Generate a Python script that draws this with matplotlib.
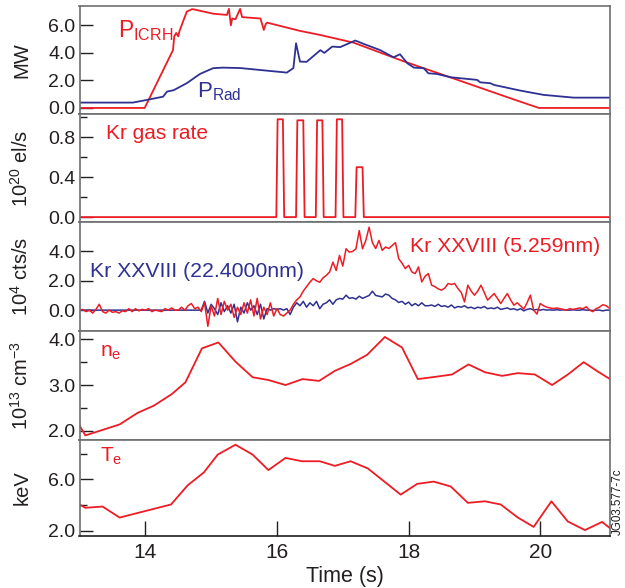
import numpy as np
import matplotlib
matplotlib.use("Agg")
import matplotlib.pyplot as plt

plt.rcParams['font.family'] = ['Liberation Sans', 'DejaVu Sans']
plt.rcParams['mathtext.default'] = 'regular'

RED = '#ed1c24'
BLUE = '#2e3192'
INK = '#231f20'
FRAME = '#6d6e71'

# --- power (MW) ---
icrh_t = [13.0, 13.99, 14.42, 14.44, 14.47, 14.50, 14.52, 14.63, 14.71, 14.75, 15.03, 15.24,
          15.27, 15.30, 15.32, 15.37, 15.44, 15.47, 15.75, 15.80, 15.83, 15.85, 16.35, 16.66,
          17.16, 17.92, 18.63, 19.55, 19.98, 21.06]
icrh_v = [0.0, 0.0, 4.2, 5.2, 5.45, 5.2, 5.6, 7.0, 7.18, 7.15, 6.85, 6.76,
          7.2, 6.0, 6.5, 6.45, 7.2, 6.6, 6.5, 5.67, 6.1, 6.2, 5.6, 5.3,
          4.75, 3.4, 2.23, 0.7, 0.0, 0.0]

rad_t = [13.0, 13.81, 14.02, 14.27, 14.33, 14.43, 14.63, 14.83, 15.03, 15.18, 15.44, 16.15,
         16.25, 16.29, 16.35, 16.45, 16.66, 16.72, 16.84, 16.96, 17.19, 17.32, 17.57, 17.77,
         17.87, 17.98, 18.08, 18.23, 18.30, 18.43, 18.64, 19.04, 19.09, 19.24, 19.30, 19.70,
         20.05, 20.51, 21.06]
rad_v = [0.39, 0.39, 0.58, 0.82, 1.19, 1.29, 1.8, 2.47, 2.89, 2.93, 2.9, 2.57,
         2.9, 4.7, 3.37, 3.35, 4.2, 4.0, 4.46, 4.42, 4.9, 4.65, 4.2, 3.68,
         3.9, 3.25, 2.93, 2.89, 2.52, 2.47, 2.23, 2.04, 1.86, 1.8, 1.67, 1.26,
         0.95, 0.75, 0.75]

# --- Kr gas rate (1e20 el/s) ---
gas_t = [13.0, 15.99, 16.01, 16.09, 16.11, 16.29, 16.31, 16.40, 16.42, 16.59, 16.61,
         16.69, 16.71, 16.89, 16.91, 16.99, 17.01, 17.19, 17.21, 17.30, 17.32, 21.06]
gas_v = [0.0, 0.0, 0.98, 0.98, 0.0, 0.0, 0.97, 0.97, 0.0, 0.0, 0.97,
         0.97, 0.0, 0.0, 0.98, 0.98, 0.0, 0.0, 0.5, 0.5, 0.0, 0.0]

# --- Kr XXVIII line intensities (1e4 cts/s), sampled every 50 ms from 13.0 s ---
kr_t = np.round(np.arange(162) * 0.05 + 13.0, 2)
kr_5nm = [
    0.0, 0.05, -0.1, 0.0, -0.2, 0.05, 0.4, -0.1, -0.2, 0.0,          # 13.0
    -0.15, -0.1, -0.2, -0.05, -0.1, 0.1, -0.1, 0.1, -0.05, 0.05,     # 13.5
    0.0, 0.1, -0.1, 0.0, -0.05, -0.1, 0.1, 0.0, 0.15, 0.0,           # 14.0
    0.0, 0.2, 0.0, 0.3, 0.45, 0.1, 0.2, -0.1, 0.5, -1.1,             # 14.5
    0.3, -0.4, 0.8, -0.3, 0.6, 0.0, 0.4, -0.5, 0.2, -0.3,            # 15.0
    0.5, -0.2, 0.7, -0.4, 0.8, -0.6, 0.2, -0.3, 0.5, -0.4,           # 15.5
    0.1, -0.3, -0.4, -0.2, 0.0, 0.4, 0.7, 0.9, 1.3, 1.6,             # 16.0
    1.9, 2.15, 2.0, 1.9, 2.2, 2.37, 2.6, 3.27, 2.7, 3.73,            # 16.5
    3.0, 4.18, 3.95, 4.0, 4.18, 5.42, 4.18, 4.75, 5.65, 4.6,         # 17.0
    4.2, 4.75, 4.07, 4.3, 4.2, 4.4, 4.6, 3.5, 3.2, 2.83,             # 17.5
    3.05, 2.6, 2.49, 2.94, 1.92, 2.3, 2.49, 1.7, 1.6, 1.45,          # 18.0
    1.36, 1.5, 1.81, 1.75, 1.81, 1.47, 1.2, 0.56, 1.7, 1.3,          # 18.5
    1.02, 1.3, 1.7, 1.2, 0.68, 0.9, 1.13, 0.8, 0.45, 0.8,            # 19.0
    1.13, 0.7, 0.34, 0.5, 0.3, 0.07, 0.5, 1.02, 0.0, -0.27,          # 19.5
    0.45, 0.3, 0.2, 0.15, 0.11, 0.15, 0.1, 0.05, 0.0, 0.1,           # 20.0
    0.05, 0.1, 0.15, 0.1, 0.23, 0.0, -0.1, 0.1, 0.2, 0.37,           # 20.5
    0.3, 0.14]
kr_22nm = [
    0.0, 0.0, 0.0, 0.0, 0.0, 0.0, 0.0, 0.0, 0.0, 0.0,                # 13.0
    0.0, 0.0, 0.0, 0.0, 0.0, 0.0, 0.0, 0.0, 0.0, 0.0,                # 13.5
    0.0, 0.0, 0.0, 0.0, 0.0, 0.0, 0.0, 0.0, 0.0, 0.0,                # 14.0
    0.0, 0.0, 0.0, 0.0, 0.0, 0.0, 0.0, 0.0, 0.6, -0.2,               # 14.5
    0.4, 0.1, -0.3, 0.5, -0.1, 0.3, -0.2, 0.4, -0.8, 0.2,            # 15.0
    -0.2, 0.5, 0.0, 0.3, -0.3, 0.4, -0.6, 0.1, 0.0, 0.1,             # 15.5
    0.05, 0.1, 0.0, 0.1, -0.3, 0.2, 0.5, 0.3, 0.6, 0.2,              # 16.0
    0.5, 0.3, 0.6, 0.1, 0.4, 0.5, 0.7, 0.4, 0.7, 0.8,                # 16.5
    0.75, 1.02, 0.8, 0.85, 0.75, 0.95, 0.8, 0.9, 1.0, 1.29,          # 17.0
    1.0, 0.95, 0.9, 1.1, 1.02, 0.8, 0.7, 0.52, 0.6, 0.4,             # 17.5
    0.55, 0.3, 0.45, 0.3, 0.5, 0.3, 0.3, 0.35, 0.25, 0.4,            # 18.0
    0.25, 0.3, 0.2, 0.35, 0.15, 0.25, 0.2, 0.3, 0.15, 0.2,           # 18.5
    0.1, 0.2, 0.15, 0.25, 0.1, 0.15, 0.1, 0.2, 0.05, 0.1,            # 19.0
    0.15, 0.05, 0.1, 0.0, 0.1, -0.05, 0.05, 0.1, 0.0, 0.05,          # 19.5
    0.0, 0.05, 0.0, 0.02, 0.0, 0.03, 0.0, 0.02, 0.0, 0.0,            # 20.0
    0.02, 0.0, 0.0, 0.03, 0.0, 0.0, -0.03, 0.0, 0.0, -0.05,          # 20.5
    0.0, 0.0]

# --- density (1e13 cm-3) ---
ne_t = [13.0, 13.09, 13.61, 13.88, 14.13, 14.40, 14.61, 14.86, 15.11, 15.37, 15.63, 15.87,
        16.13, 16.39, 16.64, 16.88, 17.12, 17.37, 17.64, 17.90, 18.14, 18.41, 18.66, 18.91,
        19.16, 19.42, 19.66, 19.92, 20.18, 20.42, 20.66, 20.88, 21.06]
ne_v = [2.12, 1.90, 2.14, 2.39, 2.55, 2.80, 3.06, 3.80, 3.93, 3.51, 3.17, 3.11,
        3.0, 3.13, 3.09, 3.31, 3.46, 3.66, 4.05, 3.82, 3.13, 3.18, 3.23, 3.45,
        3.28, 3.20, 3.26, 3.23, 3.0, 3.23, 3.50, 3.29, 3.13]

# --- electron temperature (keV) ---
te_t = [13.0, 13.09, 13.35, 13.61, 14.39, 14.64, 14.89, 15.10, 15.37, 15.63, 15.87, 16.13,
        16.38, 16.65, 16.88, 17.12, 17.38, 17.62, 17.88, 18.13, 18.38, 18.64, 18.90, 19.16,
        19.40, 19.66, 19.90, 20.17, 20.42, 20.68, 20.94, 21.06]
te_v = [4.04, 3.78, 3.88, 3.02, 4.04, 5.52, 6.55, 7.94, 8.71, 7.94, 6.73, 7.68,
        7.42, 7.42, 7.06, 7.42, 6.86, 5.88, 4.81, 5.65, 5.83, 5.45, 4.17, 4.29,
        4.04, 3.02, 2.29, 4.29, 2.71, 2.04, 2.68, 2.19]

assert len(kr_t) == len(kr_5nm) == len(kr_22nm)

fig = plt.figure(figsize=(6.25, 5.88), dpi=100)
left, width = 0.1272, 0.8488
boxes = [(0.8061, 0.1842), (0.6216, 0.1845), (0.4371, 0.1845), (0.2517, 0.1854), (0.0889, 0.1628)]
axes = [fig.add_axes([left, b, width, h]) for b, h in boxes]

for ax in axes:
    ax.set_xlim(13.0, 21.06)
    for s in ax.spines.values():
        s.set_color(FRAME)
        s.set_linewidth(1.2)
    ax.tick_params(axis='y', which='major', direction='in', length=9, width=1.0,
                   color=INK, labelsize=14, labelcolor=INK, pad=3)
    ax.tick_params(axis='y', which='minor', direction='in', length=5, width=1.0, color=INK)
    ax.tick_params(axis='x', which='both', bottom=False, top=False, labelbottom=False)

ax1, ax2, ax3, ax4, ax5 = axes

# panel 1
ax1.plot(icrh_t, icrh_v, color=RED, lw=1.3)
ax1.plot(rad_t, rad_v, color=BLUE, lw=1.3)
ax1.set_ylim(-0.44, 7.43)
ax1.set_yticks([0, 2, 4, 6])
ax1.set_yticklabels(['0.0', '2.0', '4.0', '6.0'])
ax1.set_ylabel('MW', fontsize=14.5, color=INK)
ax1.text(0.0726, 0.714, r'P$_{ICRH}$', transform=ax1.transAxes, color=RED, fontsize=16.5, va='baseline')
ax1.text(0.221, 0.157, r'P$_{Rad}$', transform=ax1.transAxes, color=BLUE, fontsize=16, va='baseline')

# panel 2
ax2.plot(gas_t, gas_v, color=RED, lw=1.3)
ax2.set_ylim(-0.054, 1.033)
ax2.set_yticks([0, 0.4, 0.8])
ax2.set_yticklabels(['0.0', '0.4', '0.8'])
ax2.set_yticks([0.2, 0.6, 1.0], minor=True)
ax2.set_ylabel(r'10$^{20}$ el/s', fontsize=14.5, color=INK)
ax2.text(0.05, 0.767, 'Kr gas rate', transform=ax2.transAxes, color=RED, fontsize=15, va='baseline')

# panel 3
ax3.plot(kr_t, kr_22nm, color=BLUE, lw=1.1)
ax3.plot(kr_t, kr_5nm, color=RED, lw=1.1)
ax3.set_ylim(-1.42, 5.97)
ax3.set_yticks([0, 2, 4])
ax3.set_yticklabels(['0.0', '2.0', '4.0'])
ax3.set_ylabel(r'10$^{4}$ cts/s', fontsize=14.5, color=INK)
ax3.text(0.0198, 0.50, 'Kr XXVIII (22.4000nm)', transform=ax3.transAxes, color=BLUE,
         fontsize=15.3, va='baseline')
ax3.text(0.623, 0.731, 'Kr XXVIII (5.259nm)', transform=ax3.transAxes, color=RED,
         fontsize=15.3, va='baseline')

# panel 4
ax4.plot(ne_t, ne_v, color=RED, lw=1.3)
ax4.set_ylim(1.80, 4.18)
ax4.set_yticks([2, 3, 4])
ax4.set_yticklabels(['2.0', '3.0', '4.0'])
ax4.set_yticks([2.5, 3.5], minor=True)
ax4.set_ylabel(r'10$^{13}$ cm$^{-3}$', fontsize=14.5, color=INK)
ax4.text(0.0386, 0.764, r'n$_e$', transform=ax4.transAxes, color=RED, fontsize=15, va='baseline')

# panel 5
ax5.plot(te_t, te_v, color=RED, lw=1.3)
ax5.set_ylim(1.6, 9.08)
ax5.set_yticks([2, 6])
ax5.set_yticklabels(['2.0', '6.0'])
ax5.set_yticks([4, 8], minor=True)
ax5.set_ylabel('keV', fontsize=14.5, color=INK)
ax5.text(0.0386, 0.773, r'T$_e$', transform=ax5.transAxes, color=RED, fontsize=15, va='baseline')
ax5.spines['bottom'].set_color(INK)
ax5.set_xticks([14, 16, 18, 20])
ax5.tick_params(axis='x', which='major', bottom=True, labelbottom=True, direction='in',
                length=11, width=1.0, color=INK, labelsize=15, labelcolor=INK, pad=5)
ax5.set_xlabel('Time (s)', fontsize=15.5, color=INK, labelpad=3)

for ax in axes:
    ax.yaxis.set_label_coords(-0.09, 0.5)

fig.text(0.989, 0.147, 'JG03.577-7c', rotation=90, fontsize=8.4, color=INK, ha='center', va='center')

plt.savefig('out.png', dpi=100)
